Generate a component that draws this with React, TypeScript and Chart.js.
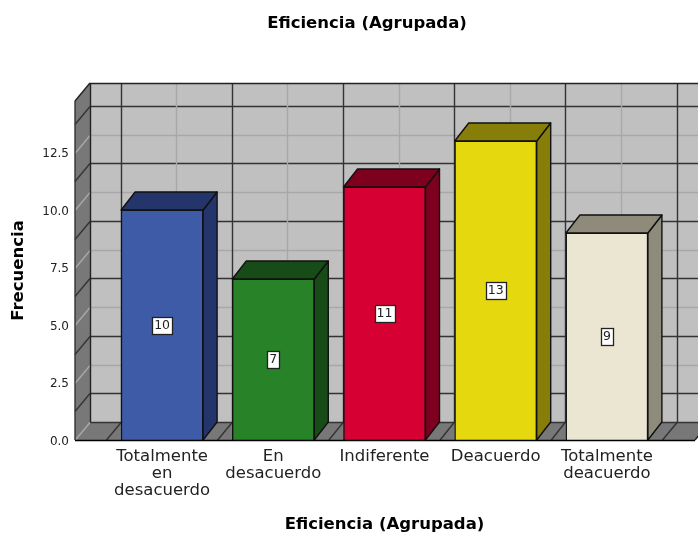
import React, { useEffect, useRef } from "react";
import { Chart, registerables } from "chart.js";

Chart.register(...registerables);

const TITLE = "Eficiencia (Agrupada)";
const Y_TITLE = "Frecuencia";
const categories = [
  ["Totalmente", "en", "desacuerdo"],
  ["En", "desacuerdo"],
  ["Indiferente"],
  ["Deacuerdo"],
  ["Totalmente", "deacuerdo"],
];
const frequencies = [10, 7, 11, 13, 9];
const frontColors = ["#3e5ba8", "#288228", "#d70032", "#e6d80e", "#ebe6d2"];
const shadeColors = ["#24356b", "#174b17", "#7d001f", "#867e08", "#8f8b7b"];
const Y_MAX = 14.74;
const Y_STEP = 2.5;
const FONT = "'DejaVu Sans', sans-serif";

const DEPTH_X = 15;
const DEPTH_Y = 18;
const DARK = "#333333";
const LIGHT = "#a8a8a8";
const GRID_W = 1.4;

function line(c: CanvasRenderingContext2D, x1: number, y1: number, x2: number, y2: number, color: string, w = GRID_W) {
  c.strokeStyle = color;
  c.lineWidth = w;
  c.beginPath();
  c.moveTo(x1, y1);
  c.lineTo(x2, y2);
  c.stroke();
}

function poly(c: CanvasRenderingContext2D, pts: number[][], fill: string, stroke?: string) {
  c.beginPath();
  pts.forEach((p, i) => (i ? c.lineTo(p[0], p[1]) : c.moveTo(p[0], p[1])));
  c.closePath();
  c.fillStyle = fill;
  c.fill();
  if (stroke) {
    c.strokeStyle = stroke;
    c.lineWidth = 1.4;
    c.lineJoin = "round";
    c.stroke();
  }
}

const box3d = {
  id: "box3d",
  afterLayout(chart: any) {
    if (chart.titleBlock) {
      chart.titleBlock.left = 36;
      chart.titleBlock.right = 698;
    }
  },
  beforeDatasetsDraw(chart: any) {
    const c: CanvasRenderingContext2D = chart.ctx;
    const xs = chart.scales.x;
    const ys = chart.scales.y;
    const L = xs.left - 31.5;
    const R = xs.right + 32.5;
    const B = ys.getPixelForValue(0);
    const T = ys.getPixelForValue(Y_MAX);
    const band = (xs.right - xs.left) / categories.length;
    c.save();
    // back wall, side wall, floor
    poly(c, [[L + DEPTH_X, T - DEPTH_Y], [R + DEPTH_X, T - DEPTH_Y], [R + DEPTH_X, B - DEPTH_Y], [L + DEPTH_X, B - DEPTH_Y]], "#c0c0c0");
    poly(c, [[L, T], [L + DEPTH_X, T - DEPTH_Y], [L + DEPTH_X, B - DEPTH_Y], [L, B]], "#787878");
    poly(c, [[L, B], [L + DEPTH_X, B - DEPTH_Y], [R + DEPTH_X, B - DEPTH_Y], [R, B]], "#787878");

    // horizontal lines on the back wall and side wall
    for (let v = 0; v < Y_MAX; v += Y_STEP / 2) {
      const y = Math.round(ys.getPixelForValue(v)) + 0.5;
      const major = Math.abs(v / Y_STEP - Math.round(v / Y_STEP)) < 1e-6;
      const col = major ? LIGHT : DARK;
      if (v > 0) line(c, L + DEPTH_X, y - DEPTH_Y, R + DEPTH_X, y - DEPTH_Y, col);
      line(c, L, y, L + DEPTH_X, y - DEPTH_Y, col);
    }
    // vertical lines on the back wall and floor
    categories.forEach((_, i) => {
      const mid = xs.getPixelForValue(i);
      const x = Math.round(mid + DEPTH_X) - 0.5;
      line(c, x, T - DEPTH_Y, x, B - DEPTH_Y, LIGHT);
      line(c, mid, B, x, B - DEPTH_Y, LIGHT);
    });
    for (let i = 0; i <= categories.length; i++) {
      const front = xs.left + i * band;
      const x = Math.round(front + DEPTH_X) - 0.5;
      line(c, x, T - DEPTH_Y, x, B - DEPTH_Y, DARK);
      line(c, front, B, x, B - DEPTH_Y, DARK);
    }
    // box edges
    line(c, L + DEPTH_X, T - DEPTH_Y + 0.5, R + DEPTH_X, T - DEPTH_Y + 0.5, "#222");
    line(c, L + DEPTH_X + 0.5, T - DEPTH_Y, L + DEPTH_X + 0.5, B - DEPTH_Y, "#222");
    line(c, L, B, L, T, "#333");
    line(c, L, T, L + DEPTH_X, T - DEPTH_Y, "#222");
    line(c, L + DEPTH_X, B - DEPTH_Y + 0.5, R + DEPTH_X, B - DEPTH_Y + 0.5, "#333");
    line(c, R, B, R + DEPTH_X, B - DEPTH_Y, "#222");

    // bar tops and sides
    const dx = 14;
    const meta = chart.getDatasetMeta(0);
    meta.data.forEach((bar: any, i: number) => {
      const l = bar.x - bar.width / 2;
      const r = bar.x + bar.width / 2;
      const t = bar.y;
      const b = bar.base;
      poly(c, [[r, t], [r + dx, t - DEPTH_Y], [r + dx, b - DEPTH_Y], [r, b]], shadeColors[i], "#111");
      poly(c, [[l, t], [l + dx, t - DEPTH_Y], [r + dx, t - DEPTH_Y], [r, t]], shadeColors[i], "#111");
    });
    c.restore();
  },
  afterDatasetsDraw(chart: any) {
    const c: CanvasRenderingContext2D = chart.ctx;
    const xs = chart.scales.x;
    const ys = chart.scales.y;
    const B = ys.getPixelForValue(0);
    c.save();
    line(c, xs.left - 31.5, B + 0.5, xs.right + 32.5, B + 0.5, "#000");
    c.font = `12.5px ${FONT}`;
    c.textAlign = "center";
    c.textBaseline = "middle";
    frequencies.forEach((v, i) => {
      const x = xs.getPixelForValue(i);
      const y = ys.getPixelForValue(v / 2);
      const t = String(v);
      const w = Math.round(c.measureText(t).width) + 4;
      const h = 17;
      const bx = Math.round(x - w / 2) + 0.5;
      const by = Math.round(y - h / 2) + 0.5;
      c.fillStyle = "#fff";
      c.fillRect(bx, by, w, h);
      c.strokeStyle = "#222";
      c.lineWidth = 1.3;
      c.strokeRect(bx, by, w, h);
      c.fillStyle = "#222";
      c.fillText(t, x, y + 0.5);
    });
    c.restore();
  },
};

export default function App() {
  const ref = useRef<HTMLCanvasElement>(null);
  useEffect(() => {
    const chart = new Chart(ref.current!, {
      type: "bar",
      data: {
        labels: categories,
        datasets: [
          {
            data: frequencies,
            backgroundColor: frontColors,
            borderColor: "#111",
            borderWidth: 1.4,
            barThickness: 82,
          },
        ],
      },
      options: {
        responsive: false,
        animation: false,
        layout: { padding: { top: 0, left: 0, right: 35.5, bottom: 0 } },
        plugins: {
          legend: { display: false },
          tooltip: { enabled: false },
          title: {
            display: true,
            text: TITLE,
            color: "#000",
            font: { family: FONT, size: 16.5, weight: "bold", lineHeight: 1.2 },
            padding: { top: 14, bottom: 67.2 },
          },
        },
        scales: {
          x: {
            grid: { display: false, drawTicks: false },
            border: { display: false },
            ticks: {
              color: "#222",
              font: { family: FONT, size: 16.5, lineHeight: 1.03 },
              padding: 8,
              maxRotation: 0,
              autoSkip: false,
            },
            title: {
              display: true,
              text: TITLE,
              color: "#000",
              font: { family: FONT, size: 16.5, weight: "bold", lineHeight: 1.2 },
              padding: { top: 0, bottom: -1 },
            },
            afterFit(scale: any) {
              scale.height = 94;
            },
          },
          y: {
            min: 0,
            max: Y_MAX,
            grid: { display: false, drawTicks: false },
            border: { display: false },
            ticks: {
              stepSize: Y_STEP,
              includeBounds: false,
              color: "#222",
              font: { family: FONT, size: 12 },
              padding: 37.5,
              labelOffset: 1.5,
              callback: (v: any) => Number(v).toFixed(1),
            },
            title: {
              display: true,
              text: Y_TITLE,
              color: "#000",
              font: { family: FONT, size: 16.5, weight: "bold", lineHeight: 1.2 },
              padding: { top: 8.5, bottom: 0 },
            },
            afterFit(scale: any) {
              scale.width = 106.5;
            },
          },
        },
      } as any,
      plugins: [box3d],
    });
    return () => chart.destroy();
  }, []);
  return (
    <div style={{ position: "absolute", left: 0, top: 0 }}>
      <canvas ref={ref} width={698} height={534} style={{ display: "block" }} />
    </div>
  );
}
